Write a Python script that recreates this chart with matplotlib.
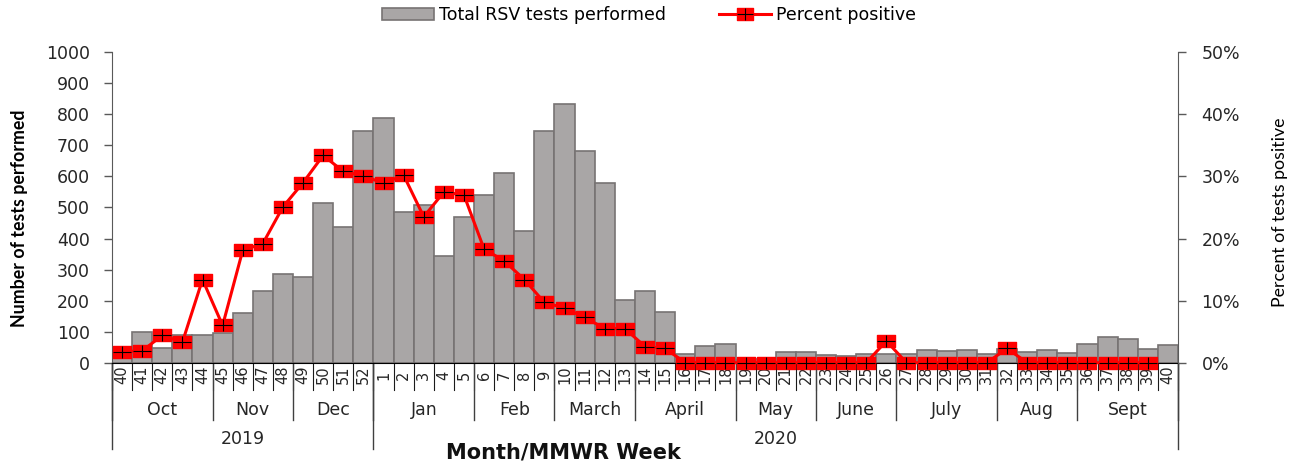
import numpy as np
import matplotlib.pyplot as plt
import matplotlib.transforms as mtransforms
from matplotlib.path import Path
from matplotlib.patches import Patch
from matplotlib.lines import Line2D

# data
weeks = list(range(40, 53)) + list(range(1, 41))
tests = [45, 100, 46, 89, 89, 97, 160, 230, 287, 275, 516, 437, 747,
         789, 485, 507, 345, 469, 541, 610, 423, 747, 833, 681, 579, 201,
         230, 164, 28, 54, 60, 8, 12, 33, 33, 26, 23, 28, 27, 27, 41, 37,
         41, 27, 43, 33, 41, 30, 60, 82, 76, 45, 58]
pct = [1.8, 1.9, 4.4, 3.3, 13.4, 6.0, 18.1, 19.2, 25.1, 29.0, 33.4, 30.8, 30.1,
       28.9, 30.2, 23.5, 27.5, 27.0, 18.3, 16.4, 13.4, 9.7, 8.8, 7.3, 5.5, 5.5,
       2.6, 2.3, 0, 0, 0, 0, 0, 0, 0, 0, 0, 0, 3.5, 0, 0, 0, 0, 0,
       2.3, 0, 0, 0, 0, 0, 0, 0, np.nan]
months = ['Oct', 'Nov', 'Dec', 'Jan', 'Feb', 'March', 'April', 'May', 'June',
          'July', 'Aug', 'Sept']
month_len = [5, 4, 4, 5, 4, 4, 5, 4, 4, 5, 4, 5]
years = ['2019', '2020']
year_len = [13, 40]

W, H = 1301, 463
fig = plt.figure(figsize=(W / 100, H / 100), dpi=100)
ax = fig.add_axes([112 / W, 100.3 / H, 1066 / W, 310.4 / H])

x = np.arange(len(weeks))
bar_fc, bar_ec = '#a9a6a6', '#777373'
ax.bar(x, tests, width=1.0, color=bar_fc, edgecolor=bar_ec, linewidth=1.2, zorder=2)
ax.set_xlim(-0.5, len(weeks) - 0.5)
ax.set_ylim(0, 1000)
ax.set_yticks(range(0, 1001, 100))
ax.set_xticks([])
ax.tick_params(axis='y', direction='out', length=6, width=1, color='#595959',
               pad=10, labelsize=12.5, labelcolor='#262626')
ax.spines['top'].set_visible(False)
ax.spines['right'].set_visible(False)
ax.spines['left'].set_color('#595959')
ax.spines['bottom'].set_color('black')

# markers: red rectangle with black cross
rect = Path([(-0.5, -0.35), (0.5, -0.35), (0.5, 0.35), (-0.5, 0.35), (-0.5, -0.35)],
            [Path.MOVETO, Path.LINETO, Path.LINETO, Path.LINETO, Path.CLOSEPOLY])
plus = Path([(-0.5, 0), (0.5, 0), (0, -0.35), (0, 0.35)],
            [Path.MOVETO, Path.LINETO, Path.MOVETO, Path.LINETO])

ax2 = ax.twinx()
ax2.set_ylim(0, 50)
ax2.set_yticks(range(0, 51, 10))
ax2.yaxis.set_major_formatter(lambda v, p: f'{v:.0f}%')
ax2.tick_params(axis='y', direction='out', length=6, width=1, color='#595959',
                pad=11, labelsize=12.5, labelcolor='#262626')
for s in ['top', 'left', 'bottom']:
    ax2.spines[s].set_visible(False)
ax2.spines['right'].set_color('#595959')
ax2.plot(x, pct, color='red', lw=2.2, marker=rect, ms=12.5, mfc='red', mec='red',
         clip_on=False, zorder=3)
ax2.plot(x, pct, ls='none', marker=plus, ms=12.5, mec='black', mew=0.8,
         clip_on=False, zorder=4)

# multi-level category axis
trans = mtransforms.blended_transform_factory(ax.transData, ax.transAxes)
def py(ypix):
    return (362.7 - ypix) / 310.4

for b in np.arange(len(weeks) + 1) - 0.5:
    ax.plot([b, b], [0, py(390)], transform=trans, color='#1a1a1a', lw=0.8, clip_on=False)
for i, w in enumerate(weeks):
    ax.text(i, py(375), str(w), transform=trans, rotation=90, ha='center', va='center',
            fontsize=10.5, color='#262626')

edges = np.concatenate([[0], np.cumsum(month_len)]) - 0.5
for b in edges:
    ax.plot([b, b], [0, py(420)], transform=trans, color='#404040', lw=1, clip_on=False)
for m, a, b in zip(months, edges[:-1], edges[1:]):
    ax.text((a + b) / 2, py(410), m, transform=trans, ha='center', va='center',
            fontsize=12.5, color='#262626')

yedges = np.concatenate([[0], np.cumsum(year_len)]) - 0.5
for b in yedges:
    ax.plot([b, b], [0, py(449)], transform=trans, color='#404040', lw=1, clip_on=False)
for yr, a, b in zip(years, yedges[:-1], yedges[1:]):
    ax.text((a + b) / 2, py(439), yr, transform=trans, ha='center', va='center',
            fontsize=12.5, color='#262626')

narrow = ['Lato', 'DejaVu Sans']
fig.text(20 / W, 1 - 218 / H, 'Number of tests performed', rotation=90, ha='center',
         va='center', fontsize=12.8, fontweight='bold', family=narrow)
fig.text(1280 / W, 1 - 212 / H, 'Percent of tests positive', rotation=90, ha='center',
         va='center', fontsize=12.8, family=narrow)
fig.text(563 / W, 1 - 452 / H, 'Month/MMWR Week', ha='center', va='center',
         fontsize=15, fontweight='bold', color='#111111')

h_bar = Patch(facecolor=bar_fc, edgecolor=bar_ec, linewidth=1.2)
h_line = (Line2D([], [], color='red', lw=2.2, marker=rect, ms=12, mfc='red', mec='red'),
          Line2D([], [], ls='none', marker=plus, ms=12, mec='black', mew=0.8))
fig.legend([h_bar, h_line], ['Total RSV tests performed', 'Percent positive'],
           loc='center', bbox_to_anchor=(649 / W, 1 - 15 / H), ncol=2, frameon=False,
           fontsize=12.5, handlelength=3, columnspacing=3, handletextpad=0.3)

fig.savefig('out.png', dpi=100)
